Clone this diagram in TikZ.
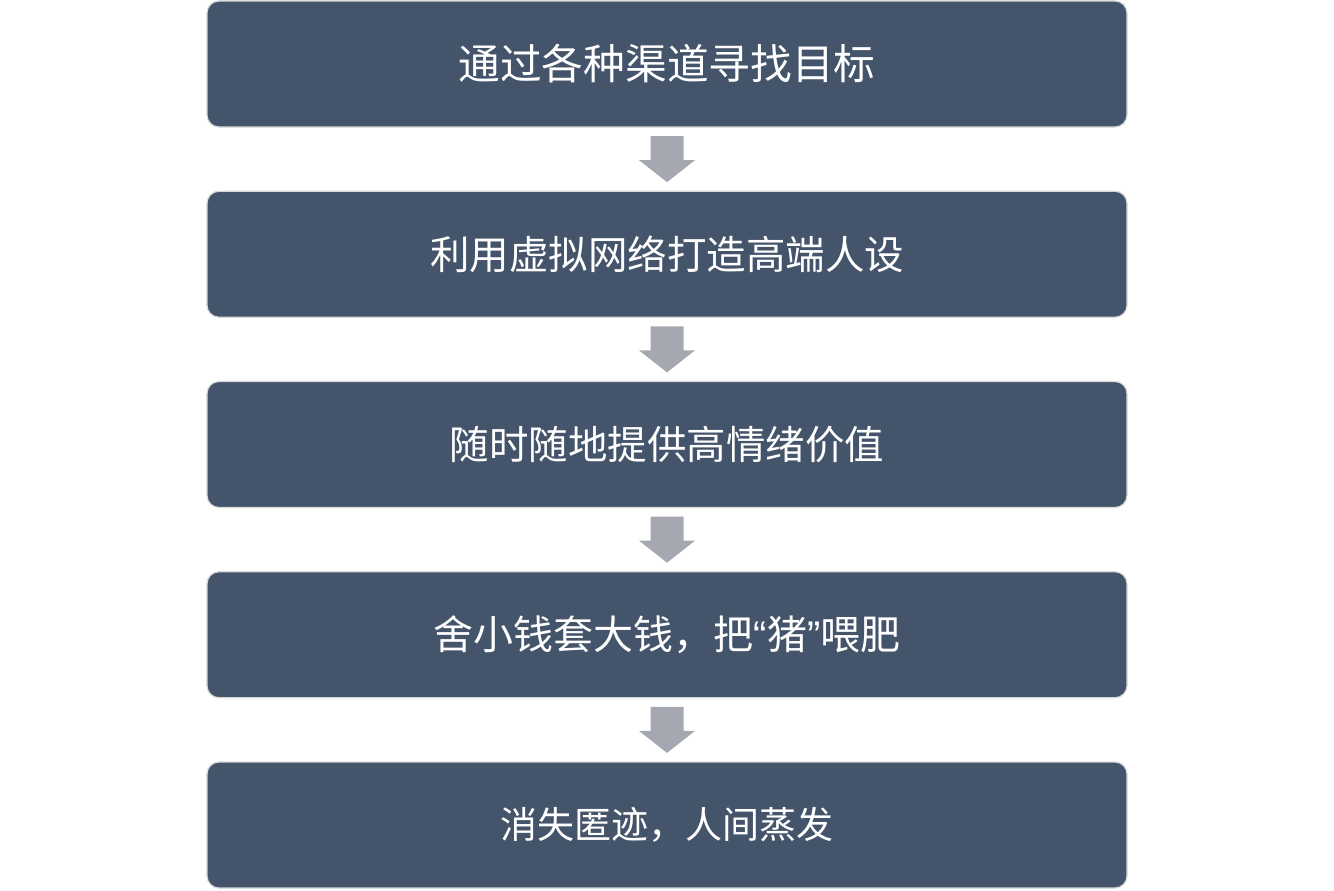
\documentclass[tikz,border=0pt]{standalone}
\usepackage{fontspec}
\setmainfont{Noto Sans CJK SC}
\newfontfamily\latinq{Liberation Sans}
\definecolor{boxfill}{HTML}{44546A}
\definecolor{boxline}{HTML}{D9D9D9}
\definecolor{arrowfill}{HTML}{A5A8B0}
\newcommand{\fsz}[1]{\fontsize{#1bp}{#1bp}\selectfont}
\begin{document}
\begin{tikzpicture}[x=1bp,y=-1bp,
  stepbox/.style={draw=boxline, line width=1.2bp, fill=boxfill, rounded corners=12bp,
    minimum width=920bp, minimum height=126bp, inner sep=0pt,
    text=white, font=\fsz{40}},
  downarrow/.style={fill=arrowfill, draw=none}]
\useasboundingbox (0,0) rectangle (1334,890);
\fill[white] (0,0) rectangle (1334,890);
\node[stepbox, font=\fsz{41.7}] (b1) at (667,64) {通过各种渠道寻找目标};
\node[stepbox, font=\fsz{39.5}] (b2) at (667,254.25) {利用虚拟网络打造高端人设};
\node[stepbox, font=\fsz{39.5}] (b3) at (667,444.5) {随时随地提供高情绪价值};
\node[stepbox, font=\fsz{40}] (b4) at (667,634.75) {舍小钱套大钱，把{\latinq “}猪{\latinq ”}喂肥};
\node[stepbox, font=\fsz{37}] (b5) at (667,825) {消失匿迹，人间蒸发};
\foreach \a/\b in {b1/b2,b2/b3,b3/b4,b4/b5}{
  \path (\a.south) -- (\b.north) coordinate[pos=0.5] (m\a);
  \fill[downarrow] ([xshift=-16.5bp,yshift=23bp]m\a) -- ([xshift=16.5bp,yshift=23bp]m\a)
    -- ([xshift=16.5bp,yshift=-1bp]m\a) -- ([xshift=28bp,yshift=-1bp]m\a)
    -- ([yshift=-23bp]m\a) -- ([xshift=-28bp,yshift=-1bp]m\a)
    -- ([xshift=-16.5bp,yshift=-1bp]m\a) -- cycle;
}
\end{tikzpicture}
\end{document}
